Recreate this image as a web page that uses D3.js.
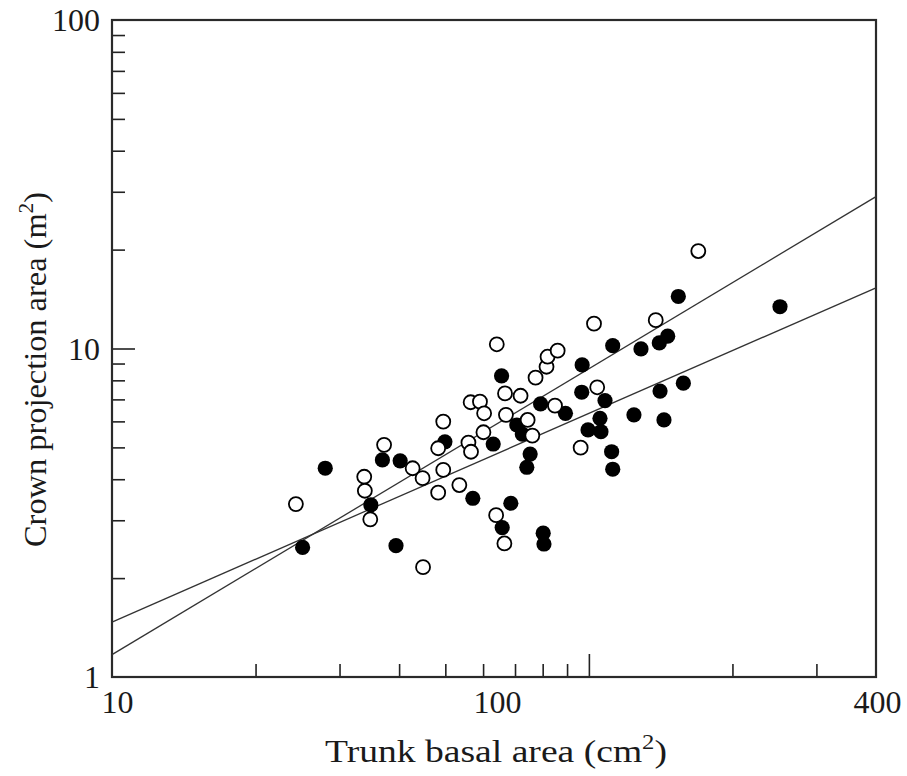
<!DOCTYPE html>
<html>
<head>
<meta charset="utf-8">
<script src="https://cdn.jsdelivr.net/npm/d3@7"></script>
<style>
  body { margin: 0; background: #fff; }
  text { font-family: "Liberation Serif", "Times New Roman", serif; fill: #1a1a1a; }
</style>
</head>
<body>
<div id="container"></div>
<script>
/* CONSTANTS AND GLOBALS */
const width = 907,
  height = 776,
  margin = { top: 20, right: 31, bottom: 99, left: 112 };

// open circles: trunk basal area (cm2), crown projection area (m2)
const openX = [24.3, 33.8, 33.9, 34.8, 37.2, 42.7, 44.8, 44.9, 48.3, 48.3, 49.5, 49.5,
  53.5, 55.9, 56.6, 56.5, 59.1, 60.3, 60.1, 64.1, 63.9, 66.7, 67.0, 66.5, 71.9, 74.4,
  76.1, 77.3, 81.5, 81.9, 86.0, 84.9, 96.1, 102.5, 169.6, 138.1, 104.1];
const openY = [3.36, 4.07, 3.69, 3.02, 5.09, 4.32, 4.03, 2.16, 3.64, 4.97, 5.99, 4.27,
  3.84, 5.17, 4.85, 6.86, 6.89, 6.35, 5.56, 10.3, 3.11, 7.30, 6.28, 2.55, 7.18, 6.06,
  5.43, 8.15, 8.80, 9.44, 9.85, 6.70, 4.99, 11.9, 19.8, 12.2, 7.62];

// filled circles
const filledX = [28.0, 25.1, 34.9, 36.9, 40.2, 39.4, 49.9, 57.1, 63.0, 65.6, 65.8, 68.6,
  70.6, 72.5, 75.3, 74.1, 79.2, 89.3, 80.2, 80.5, 96.8, 96.6, 99.6, 154.0, 251.6, 112.2,
  128.6, 140.5, 146.3, 108.1, 105.5, 106.0, 124.3, 141.0, 157.8, 143.7, 111.6, 112.2];
const filledY = [4.32, 2.48, 3.34, 4.58, 4.55, 2.51, 5.20, 3.50, 5.12, 8.25, 2.85, 3.38,
  5.85, 5.49, 4.77, 4.35, 6.78, 6.35, 2.74, 2.54, 8.91, 7.36, 5.65, 14.4, 13.4, 10.2,
  9.97, 10.4, 10.9, 6.94, 6.13, 5.58, 6.28, 7.42, 7.84, 6.06, 4.85, 4.29];

// fitted regression lines (end points)
const fitSteep = [[10, 1.17], [400, 29.0]];
const fitShallow = [[10, 1.47], [400, 15.3]];

// axis ticks and labels
const xMinorTicks = [20, 30, 40, 50, 60, 70, 80, 90, 200, 300];
const xMajorTicks = [100];
const xLabels = [10, 100, 400];
const yMinorTicks = [2, 3, 4, 5, 6, 7, 8, 9, 20, 30, 40, 50, 60, 70, 80, 90];
const yMajorTicks = [10];
const yLabels = [1, 10, 100];

const xTitle = "Trunk basal area (cm";
const yTitle = "Crown projection area (m";

/* SCALES */
const xScale = d3.scaleLog()
  .domain([10, 400])
  .range([margin.left, width - margin.right]);

const yScale = d3.scaleLog()
  .domain([1, 100])
  .range([height - margin.bottom, margin.top]);

const svg = d3.select("#container")
  .append("svg")
  .attr("width", width)
  .attr("height", height);

const x0 = margin.left, x1 = width - margin.right,
  y0 = height - margin.bottom, y1 = margin.top;

/* TICKS (inward) */
function tickStyle(g) {
  g.select(".domain").remove();
  g.selectAll("line").attr("stroke", "#222").attr("stroke-width", 1.6);
}

svg.append("g")
  .attr("transform", `translate(0, ${y0})`)
  .call(d3.axisBottom(xScale).tickValues(xMinorTicks).tickSize(-13).tickFormat(""))
  .call(tickStyle);
svg.append("g")
  .attr("transform", `translate(0, ${y0})`)
  .call(d3.axisBottom(xScale).tickValues(xMajorTicks).tickSize(-23).tickFormat(""))
  .call(tickStyle);

svg.append("g")
  .attr("transform", `translate(${x0}, 0)`)
  .call(d3.axisLeft(yScale).tickValues(yMinorTicks).tickSize(-13).tickFormat(""))
  .call(tickStyle);
svg.append("g")
  .attr("transform", `translate(${x0}, 0)`)
  .call(d3.axisLeft(yScale).tickValues(yMajorTicks).tickSize(-23).tickFormat(""))
  .call(tickStyle);

/* TICK LABELS */
// the printed figure sets "100" well to the left of its tick
const xLabelShift = { 10: 5, 100: -92, 400: 1 };

const xLab = svg.append("g")
  .attr("transform", `translate(0, ${y0})`)
  .call(d3.axisBottom(xScale).tickValues(xLabels).tickSize(0).tickFormat(d3.format("d")));
xLab.select(".domain").remove();
xLab.selectAll("text")
  .attr("y", 36)
  .attr("dy", 0)
  .attr("dx", d => xLabelShift[d])
  .attr("font-size", 32)
  .style("font-family", "Liberation Serif");

const yLab = svg.append("g")
  .attr("transform", `translate(${x0}, 0)`)
  .call(d3.axisLeft(yScale).tickValues(yLabels).tickSize(0).tickPadding(12).tickFormat(d3.format("d")));
yLab.select(".domain").remove();
yLab.selectAll("text")
  .attr("dy", "0.34em")
  .attr("font-size", 32)
  .style("font-family", "Liberation Serif");

/* FRAME */
svg.append("rect")
  .attr("x", x0)
  .attr("y", y1)
  .attr("width", x1 - x0)
  .attr("height", y0 - y1)
  .attr("fill", "none")
  .attr("stroke", "#2a2a2a")
  .attr("stroke-width", 2.2);

/* FIT LINES */
const line = d3.line()
  .x(d => xScale(d[0]))
  .y(d => yScale(d[1]));

svg.selectAll(".fit")
  .data([fitSteep, fitShallow])
  .join("path")
  .attr("class", "fit")
  .attr("d", line)
  .attr("fill", "none")
  .attr("stroke", "#333")
  .attr("stroke-width", 1.3);

/* POINTS */
svg.selectAll(".filled")
  .data(d3.zip(filledX, filledY))
  .join("circle")
  .attr("class", "filled")
  .attr("cx", d => xScale(d[0]))
  .attr("cy", d => yScale(d[1]))
  .attr("r", 7.6)
  .attr("fill", "#000");

svg.selectAll(".open")
  .data(d3.zip(openX, openY))
  .join("circle")
  .attr("class", "open")
  .attr("cx", d => xScale(d[0]))
  .attr("cy", d => yScale(d[1]))
  .attr("r", 7)
  .attr("fill", "#fff")
  .attr("stroke", "#000")
  .attr("stroke-width", 1.8);

/* AXIS TITLES */
const xt = svg.append("text")
  .attr("x", (325 + 667) / 2)
  .attr("y", 762)
  .attr("text-anchor", "middle")
  .attr("font-size", 32)
  .attr("textLength", 342)
  .attr("lengthAdjust", "spacingAndGlyphs");
xt.append("tspan").text(xTitle);
xt.append("tspan").attr("dy", -13).attr("font-size", 21).text("2");
xt.append("tspan").attr("dy", 13).text(")");

const yt = svg.append("text")
  .attr("transform", `translate(46, ${(192 + 547) / 2}) rotate(-90)`)
  .attr("text-anchor", "middle")
  .attr("font-size", 32)
  .attr("textLength", 355)
  .attr("lengthAdjust", "spacingAndGlyphs");
yt.append("tspan").text(yTitle);
yt.append("tspan").attr("dy", -13).attr("font-size", 21).text("2");
yt.append("tspan").attr("dy", 13).text(")");
</script>
</body>
</html>
